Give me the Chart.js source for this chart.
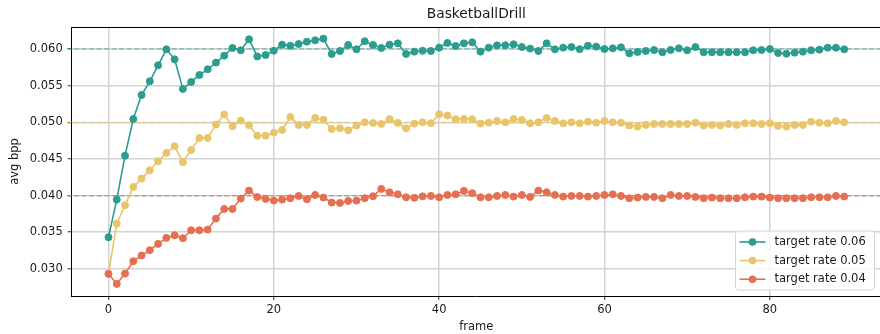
<!DOCTYPE html>
<html>
<head>
<meta charset="utf-8">
<script src="https://cdn.jsdelivr.net/npm/chart.js@4.4.1/dist/chart.umd.min.js"></script>
<style>
  html, body { margin: 0; padding: 0; background: #fff; overflow: hidden; }
  #wrap { width: 880px; height: 334px; overflow: hidden; position: relative; }
  canvas { display: block; }
</style>
</head>
<body>
<div id="wrap"><canvas id="chart" width="886" height="334"></canvas></div>
<script>
// Frame indices (x categories)
const frames = Array.from({ length: 90 }, (_, i) => i);

// Average bits per pixel per frame, one list per target rate
const rate06 = [
  0.03432, 0.03945, 0.04545, 0.05045, 0.05373, 0.05559, 0.05777, 0.05995, 0.05859, 0.05455,
  0.05550, 0.05645, 0.05723, 0.05814, 0.05909, 0.06014, 0.05982, 0.06132, 0.05898, 0.05918,
  0.05977, 0.06059, 0.06045, 0.06068, 0.06100, 0.06118, 0.06141, 0.05932, 0.05973, 0.06055,
  0.05995, 0.06105, 0.06055, 0.06014, 0.06059, 0.06077, 0.05932, 0.05964, 0.05975, 0.05973,
  0.06018, 0.06082, 0.06041, 0.06077, 0.06091, 0.05964, 0.06018, 0.06050, 0.06050, 0.06064,
  0.06027, 0.06005, 0.05973, 0.06077, 0.05995, 0.06018, 0.06027, 0.05998, 0.06045, 0.06032,
  0.06000, 0.06009, 0.06023, 0.05941, 0.05959, 0.05973, 0.05986, 0.05955, 0.05986, 0.06009,
  0.05982, 0.06027, 0.05955, 0.05955, 0.05955, 0.05955, 0.05955, 0.05955, 0.05982, 0.05986,
  0.06000, 0.05945, 0.05936, 0.05950, 0.05964, 0.05982, 0.05991, 0.06018, 0.06018, 0.05995
];
const rate05 = [
  0.02932, 0.03618, 0.03868, 0.04118, 0.04232, 0.04345, 0.04468, 0.04582, 0.04673, 0.04455,
  0.04623, 0.04786, 0.04786, 0.04968, 0.05105, 0.04945, 0.05023, 0.04959, 0.04818, 0.04818,
  0.04859, 0.04895, 0.05073, 0.04964, 0.04964, 0.05059, 0.05036, 0.04909, 0.04918, 0.04891,
  0.04955, 0.05000, 0.04991, 0.04977, 0.05045, 0.04991, 0.04918, 0.04982, 0.05000, 0.04986,
  0.05109, 0.05091, 0.05041, 0.05045, 0.05041, 0.04982, 0.04995, 0.05018, 0.05000, 0.05045,
  0.05032, 0.04986, 0.05000, 0.05059, 0.05018, 0.04986, 0.05000, 0.04986, 0.05009, 0.04995,
  0.05018, 0.05000, 0.04995, 0.04955, 0.04941, 0.04964, 0.04977, 0.04977, 0.04977, 0.04977,
  0.04977, 0.04995, 0.04955, 0.04964, 0.04955, 0.04977, 0.04964, 0.04986, 0.04986, 0.04977,
  0.04986, 0.04950, 0.04941, 0.04964, 0.04964, 0.05009, 0.04995, 0.04986, 0.05018, 0.05000
];
const rate04 = [
  0.02932, 0.02795, 0.02936, 0.03105, 0.03182, 0.03255, 0.03341, 0.03423, 0.03459, 0.03418,
  0.03527, 0.03527, 0.03536, 0.03686, 0.03818, 0.03818, 0.03959, 0.04068, 0.03980, 0.03955,
  0.03932, 0.03945, 0.03964, 0.03995, 0.03950, 0.04009, 0.03973, 0.03905, 0.03900, 0.03927,
  0.03932, 0.03964, 0.03991, 0.04091, 0.04045, 0.04018, 0.03977, 0.03970, 0.03990, 0.03995,
  0.03977, 0.04009, 0.04018, 0.04064, 0.04032, 0.03977, 0.03977, 0.03995, 0.04009, 0.03986,
  0.04009, 0.03982, 0.04068, 0.04045, 0.04009, 0.03986, 0.03995, 0.03995, 0.03986, 0.03995,
  0.04009, 0.04018, 0.03995, 0.03964, 0.03973, 0.03982, 0.03982, 0.03964, 0.04009, 0.03995,
  0.03995, 0.03982, 0.03964, 0.03973, 0.03964, 0.03964, 0.03964, 0.03977, 0.03986, 0.03986,
  0.03973, 0.03964, 0.03964, 0.03964, 0.03964, 0.03977, 0.03977, 0.03977, 0.03995, 0.03986
];

// Target rates drawn as dashed reference lines
const targetRates = [0.06, 0.05, 0.04];
const seriesLabels = ['target rate 0.06', 'target rate 0.05', 'target rate 0.04'];
const seriesColors = ['#2a9d8f', '#e9c46a', '#e76f51'];

// Axis ticks
const xTicks = [0, 20, 40, 60, 80];
const yTicks = [0.030, 0.035, 0.040, 0.045, 0.050, 0.055, 0.060];

const chartTitle = 'BasketballDrill';
const FONT = "'DejaVu Sans', 'Liberation Sans', sans-serif";
const TEXT = '#1a1a1a';

Chart.defaults.font.family = FONT;
Chart.defaults.font.size = 11.5;
Chart.defaults.color = TEXT;

const seriesValues = [rate06, rate05, rate04];
const datasets = seriesValues.map((vals, i) => ({
  label: seriesLabels[i],
  data: frames.map((f, k) => ({ x: f, y: vals[k] })),
  borderColor: seriesColors[i],
  backgroundColor: seriesColors[i],
  pointBackgroundColor: seriesColors[i],
  pointBorderColor: seriesColors[i],
  borderWidth: 1.6,
  pointRadius: 3.5,
  pointBorderWidth: 1,
  tension: 0,
  order: 3 - i
}));

// Title centred above the plotting area
const titlePlugin = {
  id: 'plotTitle',
  afterDraw(chart) {
    const { ctx, chartArea } = chart;
    ctx.save();
    ctx.font = `13.8px ${FONT}`;
    ctx.fillStyle = TEXT;
    ctx.textAlign = 'center';
    ctx.textBaseline = 'middle';
    ctx.fillText(chartTitle, (chartArea.left + chartArea.right) / 2, 14.5);
    ctx.restore();
  }
};

// Dashed horizontal lines at each target rate
const targetPlugin = {
  id: 'targetLines',
  beforeDatasetsDraw(chart) {
    const { ctx, chartArea, scales } = chart;
    ctx.save();
    ctx.lineWidth = 1.1;
    ctx.setLineDash([5, 2.5]);
    ctx.globalAlpha = 0.8;
    targetRates.forEach((r, i) => {
      const y = scales.y.getPixelForValue(r);
      ctx.strokeStyle = seriesColors[i];
      ctx.beginPath();
      ctx.moveTo(chartArea.left - 5, y);
      ctx.lineTo(chartArea.right, y);
      ctx.stroke();
    });
    ctx.restore();
  }
};

// Top spine of the axes frame
const framePlugin = {
  id: 'axesFrame',
  afterDatasetsDraw(chart) {
    const { ctx, chartArea } = chart;
    ctx.save();
    ctx.strokeStyle = '#000';
    ctx.lineWidth = 1;
    ctx.beginPath();
    ctx.moveTo(chartArea.left, Math.round(chartArea.top) + 0.5);
    ctx.lineTo(chartArea.right, Math.round(chartArea.top) + 0.5);
    ctx.stroke();
    ctx.restore();
  }
};

// Legend box in the lower right corner of the plot
const legendPlugin = {
  id: 'cornerLegend',
  afterDraw(chart) {
    const { ctx, chartArea } = chart;
    const w = 139, h = 59, r = 3;
    const x0 = chartArea.right - 6.5 - w;
    const y0 = chartArea.bottom - 6 - h;
    ctx.save();
    ctx.beginPath();
    ctx.roundRect(x0, y0, w, h, r);
    ctx.fillStyle = 'rgba(255,255,255,0.8)';
    ctx.fill();
    ctx.strokeStyle = '#d6d6d6';
    ctx.lineWidth = 1;
    ctx.stroke();
    ctx.font = `11.5px ${FONT}`;
    ctx.textBaseline = 'middle';
    ctx.textAlign = 'left';
    seriesLabels.forEach((label, i) => {
      const cy = y0 + 11 + i * 18.6;
      ctx.strokeStyle = seriesColors[i];
      ctx.lineWidth = 1.6;
      ctx.beginPath();
      ctx.moveTo(x0 + 4, cy);
      ctx.lineTo(x0 + 30, cy);
      ctx.stroke();
      ctx.fillStyle = seriesColors[i];
      ctx.beginPath();
      ctx.arc(x0 + 17, cy, 3.8, 0, Math.PI * 2);
      ctx.fill();
      ctx.fillStyle = TEXT;
      ctx.fillText(label, x0 + 39, cy);
    });
    ctx.restore();
  }
};

new Chart(document.getElementById('chart'), {
  type: 'line',
  data: { datasets },
  options: {
    responsive: false,
    animation: false,
    devicePixelRatio: 1,
    layout: { padding: { left: 0, top: 27, right: 3, bottom: 0 } },
    plugins: {
      legend: { display: false },
      title: { display: false },
      tooltip: { enabled: false }
    },
    scales: {
      x: {
        type: 'linear',
        min: -4.45,
        max: 93.45,
        afterBuildTicks: s => { s.ticks = xTicks.map(v => ({ value: v })); },
        afterFit: s => { s.height = 38; },
        grid: { color: '#d2d2d2', lineWidth: 1.5, tickColor: '#333', tickLength: 4, tickWidth: 1 },
        border: { display: true, color: '#000', width: 1 },
        ticks: { color: TEXT, padding: 3, maxRotation: 0, autoSkip: false, callback: v => String(v) },
        title: { display: true, text: 'frame', color: TEXT, font: { size: 11.5 }, padding: { top: 0, bottom: 0 } }
      },
      y: {
        type: 'linear',
        min: 0.0263,
        max: 0.0630,
        afterBuildTicks: s => { s.ticks = yTicks.map(v => ({ value: v })); },
        afterFit: s => { s.width = 71.7; },
        grid: { color: '#d2d2d2', lineWidth: 1.5, tickColor: '#333', tickLength: 4, tickWidth: 1 },
        border: { display: true, color: '#000', width: 1 },
        ticks: { color: TEXT, padding: 5, autoSkip: false, callback: v => v.toFixed(3) },
        title: { display: true, text: 'avg bpp', color: TEXT, font: { size: 11.5 }, padding: { top: 8, bottom: 0 } }
      }
    }
  },
  plugins: [targetPlugin, framePlugin, titlePlugin, legendPlugin]
});
</script>
</body>
</html>
